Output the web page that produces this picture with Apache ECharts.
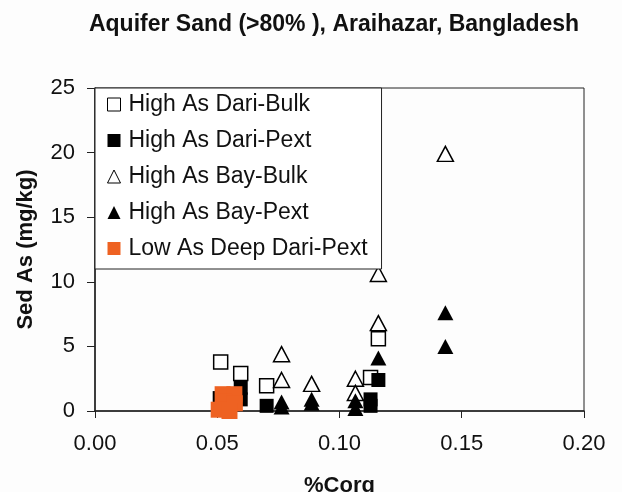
<!DOCTYPE html>
<html>
<head>
<meta charset="utf-8">
<script src="https://cdn.jsdelivr.net/npm/echarts@6/dist/echarts.min.js"></script>
<style>html,body{margin:0;padding:0;background:#fdfdfd}#c{width:622px;height:492px}</style>
</head>
<body>
<div id="c"></div>
<script>
const title = 'Aquifer Sand (>80% ), Araihazar, Bangladesh';
const seriesNames = ['High As Dari-Bulk','High As Dari-Pext','High As Bay-Bulk','High As Bay-Pext','Low As Deep Dari-Pext'];
const xTicks = [0, 0.05, 0.10, 0.15, 0.20];
const yTicks = [0, 5, 10, 15, 20, 25];
const dariBulk = [[0.0514,3.8],[0.0596,2.9],[0.0702,1.95],[0.1127,2.6],[0.1159,5.6]];
const dariPext = [[0.0510,1.0],[0.0596,1.8],[0.0596,0.9],[0.0702,0.4],[0.1127,0.9],[0.1127,0.4],[0.1159,2.4]];
const bayBulk = [[0.0763,4.4],[0.0763,2.4],[0.0886,2.1],[0.1065,2.5],[0.1065,1.4],[0.1159,10.6],[0.1159,6.8],[0.1433,19.9]];
const bayPext = [[0.0763,0.7],[0.0763,0.3],[0.0886,0.9],[0.0886,0.6],[0.1065,0.8],[0.1065,0.2],[0.1159,4.1],[0.1433,7.6],[0.1433,5.0]];
const lowDeep = [[0.0522,1.3],[0.0570,1.3],[0.0530,0.7],[0.0572,0.6],[0.0506,0.1],[0.0550,0.0]];

const FONT = 'Liberation Sans, Arial, sans-serif';
const ORANGE = '#EE6222';
const chart = echarts.init(document.getElementById('c'), null, {renderer:'canvas'});
const open = {color:'#ffffff', borderColor:'#000', borderWidth:1.5, opacity:1};
chart.setOption({
  backgroundColor:'#fdfdfd',
  animation:false,
  title:{text:title, left:329, textAlign:'center', top:8,
    textStyle:{fontFamily:FONT, fontSize:23, fontWeight:'bold', color:'#111'}},
  grid:{left:95, right:38, top:88, bottom:81, containLabel:false, outerBoundsMode:'none',
    show:true, borderColor:'#222', borderWidth:1, backgroundColor:'transparent'},
  legend:{
    orient:'vertical', left:95, top:88, backgroundColor:'#fff',
    borderColor:'#222', borderWidth:1, padding:[5,14,9,12],
    itemWidth:13, itemHeight:13, itemGap:13,
    textStyle:{fontFamily:FONT, fontSize:23, color:'#111', lineHeight:23, padding:[0,0,0,3]},
    data:[
      {name:seriesNames[0], icon:'rect', itemStyle:{color:'#fff', borderColor:'#000', borderWidth:1}},
      {name:seriesNames[1], icon:'rect', itemStyle:{color:'#000'}},
      {name:seriesNames[2], icon:'triangle', itemStyle:{color:'#fff', borderColor:'#000', borderWidth:1}},
      {name:seriesNames[3], icon:'triangle', itemStyle:{color:'#000'}},
      {name:seriesNames[4], icon:'rect', itemStyle:{color:ORANGE}}
    ]
  },
  xAxis:{type:'value', min:0, max:0.2, interval:0.05,
    name:'%Corg', nameLocation:'middle', nameGap:64,
    nameTextStyle:{fontFamily:FONT, fontSize:22, fontWeight:'bold', color:'#111'},
    axisLine:{lineStyle:{color:'#222', width:1.5}},
    axisTick:{show:true, length:7, inside:false, lineStyle:{color:'#222'}},
    splitLine:{show:false},
    axisLabel:{fontFamily:FONT, fontSize:22, color:'#111', margin:22, formatter:v=>v.toFixed(2)}
  },
  yAxis:{type:'value', min:0, max:25, interval:5,
    name:'Sed As (mg/kg)', nameLocation:'middle', nameGap:58, nameRotate:90,
    nameTextStyle:{fontFamily:FONT, fontSize:22, fontWeight:'bold', color:'#111'},
    axisLine:{show:true, lineStyle:{color:'#222', width:1.5}},
    axisTick:{show:true, length:8, lineStyle:{color:'#222'}},
    splitLine:{show:false},
    axisLabel:{fontFamily:FONT, fontSize:22, color:'#111', margin:20}
  },
  series:[
    {name:seriesNames[0], type:'scatter', data:dariBulk, symbol:'rect', symbolSize:14, itemStyle:open, z:3},
    {name:seriesNames[1], type:'scatter', data:dariPext, symbol:'rect', symbolSize:14, itemStyle:{color:'#000', opacity:1}, z:4},
    {name:seriesNames[2], type:'scatter', data:bayBulk, symbol:'triangle', symbolSize:[16,15], itemStyle:open, z:3},
    {name:seriesNames[3], type:'scatter', data:bayPext, symbol:'triangle', symbolSize:[16,15], itemStyle:{color:'#000', opacity:1}, z:4},
    {name:seriesNames[4], type:'scatter', data:lowDeep, symbol:'rect', symbolSize:16, itemStyle:{color:ORANGE, opacity:1}, z:5}
  ]
});
</script>
</body>
</html>
